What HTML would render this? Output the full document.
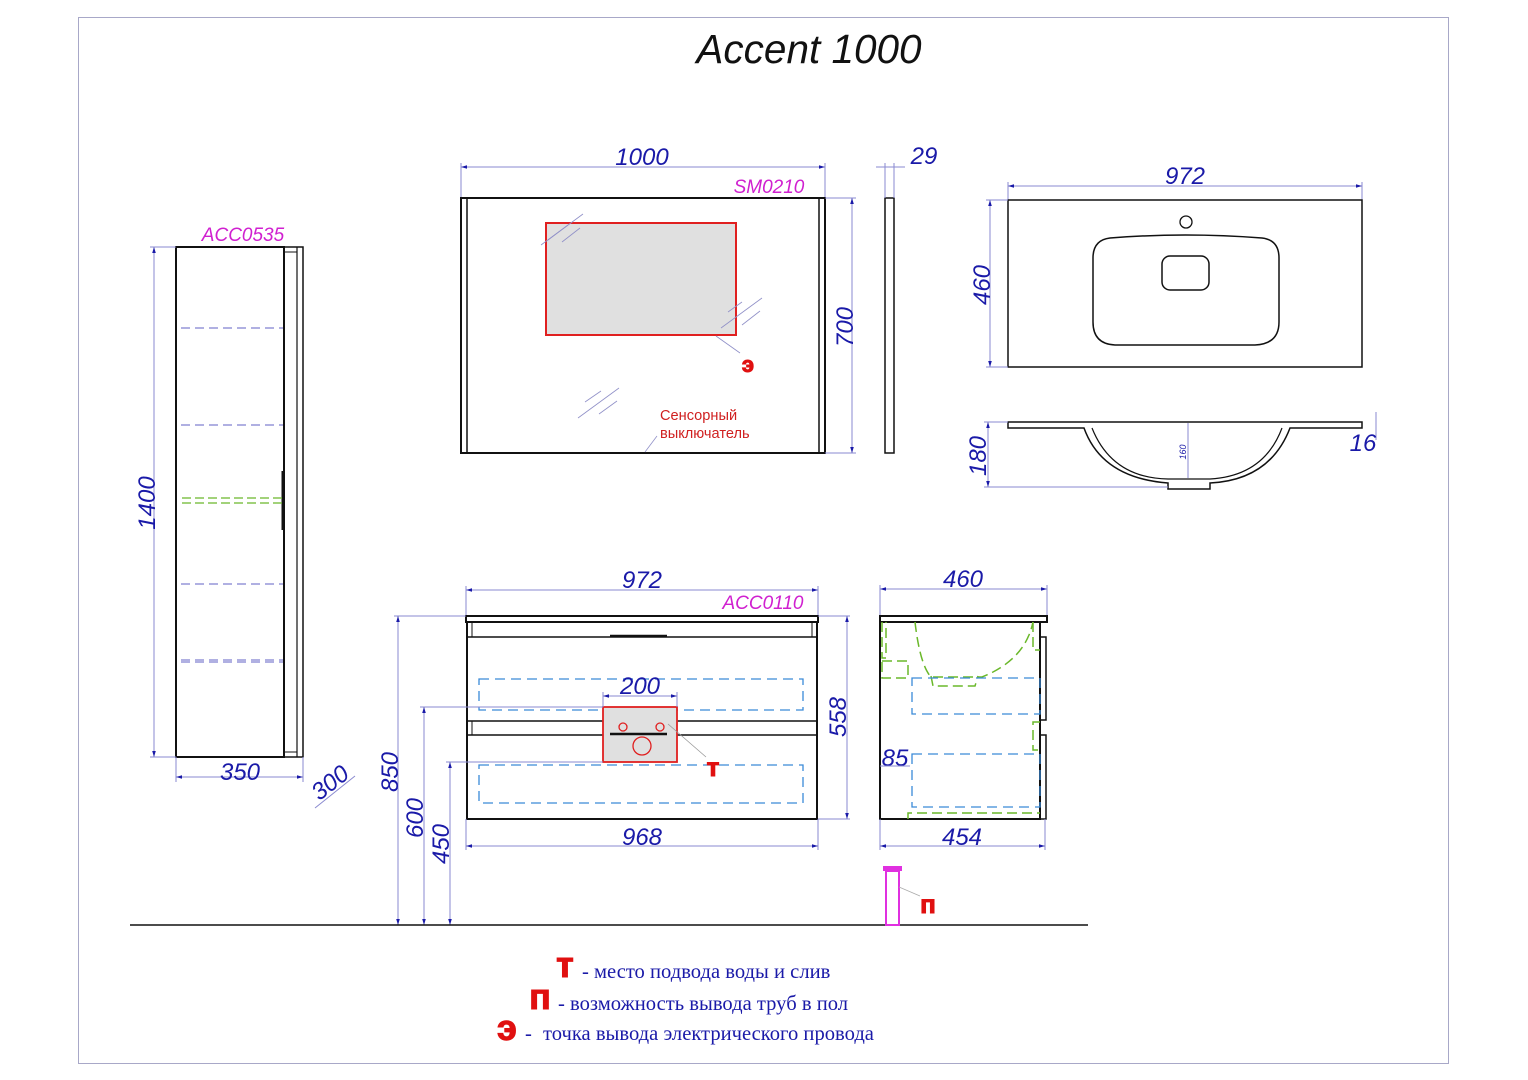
<!DOCTYPE html>
<html><head><meta charset="utf-8"><style>
html,body{margin:0;padding:0;background:#fff;}
svg{display:block;}
.d{font-family:"Liberation Sans",sans-serif;font-style:italic;fill:#1a1aa8;font-size:24px;}
.m{font-family:"Liberation Sans",sans-serif;font-style:italic;fill:#d020d0;font-size:19px;}
.dl{stroke:#8a8ad0;stroke-width:1;fill:none;}
.k{stroke:#111;stroke-width:2;fill:none;}
.bd{stroke:#3a8ad8;stroke-width:1.3;fill:none;stroke-dasharray:10 6;}
.gd{stroke:#6ab82a;stroke-width:1.5;fill:none;stroke-dasharray:10 5;}
.rl{font-family:"Liberation Sans",sans-serif;font-weight:bold;fill:#e01010;stroke:#e01010;stroke-width:1;}
.lg{font-family:"Liberation Serif","DejaVu Serif",serif;fill:#1a1aa8;font-size:20.6px;}
</style></head><body>
<svg width="1528" height="1080" viewBox="0 0 1528 1080" xmlns="http://www.w3.org/2000/svg">
<defs>
<marker id="a" viewBox="0 0 10 10" refX="10" refY="5" markerWidth="8" markerHeight="6" orient="auto-start-reverse"><path d="M0,2 L10,5 L0,8z" fill="#1a1aa8"/></marker>
</defs>
<rect x="78.5" y="17.5" width="1370" height="1046" fill="none" stroke="#a8a8c8" stroke-width="1"/>
<text x="809" y="63" text-anchor="middle" font-family="Liberation Sans,sans-serif" font-style="italic" font-size="40.5" fill="#111">Accent 1000</text>

<!-- tall cabinet -->
<text x="243" y="241" text-anchor="middle" class="m">ACC0535</text>
<rect x="176" y="247" width="108" height="510" class="k"/>
<rect x="284" y="247" width="19" height="510" fill="none" stroke="#111" stroke-width="1.5"/>
<line x1="297" y1="247" x2="297" y2="757" stroke="#111" stroke-width="1.2"/>
<line x1="284" y1="252" x2="297" y2="252" stroke="#111"/>
<line x1="284" y1="752" x2="297" y2="752" stroke="#111"/>
<line x1="283" y1="471" x2="283" y2="530" stroke="#111" stroke-width="3"/>
<g stroke="#8080d0" stroke-width="1.3" stroke-dasharray="9 5">
<line x1="181" y1="328" x2="283" y2="328"/><line x1="181" y1="425" x2="283" y2="425"/>
<line x1="181" y1="584" x2="283" y2="584"/><line x1="181" y1="660" x2="283" y2="660"/><line x1="181" y1="662" x2="283" y2="662"/>
</g>
<g stroke="#6ab82a" stroke-width="1.3" stroke-dasharray="9 4"><line x1="182" y1="498" x2="283" y2="498"/><line x1="182" y1="503" x2="283" y2="503"/></g>
<line x1="154" y1="247" x2="154" y2="757" class="dl" marker-start="url(#a)" marker-end="url(#a)"/>
<line x1="150" y1="247" x2="176" y2="247" class="dl"/><line x1="150" y1="757" x2="176" y2="757" class="dl"/>
<text class="d" transform="translate(155,503) rotate(-90)" text-anchor="middle">1400</text>
<line x1="176" y1="777" x2="303" y2="777" class="dl" marker-start="url(#a)" marker-end="url(#a)"/>
<line x1="176" y1="757" x2="176" y2="782" class="dl"/><line x1="303" y1="757" x2="303" y2="782" class="dl"/>
<text x="240" y="780" class="d" text-anchor="middle">350</text>
<text class="d" transform="translate(335,789) rotate(-38)" text-anchor="middle">300</text>
<line x1="315" y1="808" x2="355" y2="776" class="dl"/>

<!-- mirror -->
<text x="642" y="165" class="d" text-anchor="middle">1000</text>
<line x1="461" y1="167" x2="825" y2="167" class="dl" marker-start="url(#a)" marker-end="url(#a)"/>
<line x1="461" y1="163" x2="461" y2="198" class="dl"/><line x1="825" y1="163" x2="825" y2="198" class="dl"/>
<text x="769" y="193" class="m" text-anchor="middle">SM0210</text>
<rect x="461" y="198" width="364" height="255" class="k"/>
<line x1="467" y1="198" x2="467" y2="453" stroke="#111" stroke-width="1.5"/>
<line x1="819" y1="198" x2="819" y2="453" stroke="#111" stroke-width="1.5"/>
<line x1="825" y1="198" x2="856" y2="198" class="dl"/><line x1="825" y1="453" x2="856" y2="453" class="dl"/>
<line x1="852" y1="198" x2="852" y2="453" class="dl" marker-start="url(#a)" marker-end="url(#a)"/>
<text class="d" transform="translate(853,327) rotate(-90)" text-anchor="middle">700</text>
<rect x="546" y="223" width="190" height="112" fill="#e0e0e0" stroke="#e02020" stroke-width="2"/>
<g stroke="#9090c8" stroke-width="0.8">
<line x1="541" y1="245" x2="583" y2="214"/><line x1="548" y1="240" x2="568" y2="225"/><line x1="562" y1="242" x2="580" y2="228"/>
<line x1="721" y1="328" x2="762" y2="298"/><line x1="728" y1="312" x2="742" y2="302"/><line x1="742" y1="325" x2="760" y2="311"/>
<line x1="578" y1="418" x2="619" y2="388"/><line x1="585" y1="402" x2="601" y2="391"/><line x1="599" y1="414" x2="617" y2="401"/>
<line x1="716" y1="336" x2="740" y2="353"/><line x1="645" y1="452" x2="657" y2="436"/>
</g>
<text x="748" y="372" class="rl" font-size="22" text-anchor="middle">э</text>
<text x="660" y="420" font-family="Liberation Sans,sans-serif" font-size="14.6" fill="#d02020">Сенсорный</text>
<text x="660" y="438" font-family="Liberation Sans,sans-serif" font-size="14.6" fill="#d02020">выключатель</text>
<rect x="885" y="198" width="9" height="255" fill="none" stroke="#111" stroke-width="1.5"/>
<line x1="885" y1="163" x2="885" y2="198" class="dl"/><line x1="894" y1="163" x2="894" y2="198" class="dl"/>
<line x1="876" y1="167" x2="905" y2="167" class="dl"/>
<text x="924" y="164" class="d" text-anchor="middle">29</text>

<!-- sink top -->
<text x="1185" y="184" class="d" text-anchor="middle">972</text>
<line x1="1008" y1="186" x2="1362" y2="186" class="dl" marker-start="url(#a)" marker-end="url(#a)"/>
<line x1="1008" y1="182" x2="1008" y2="200" class="dl"/><line x1="1362" y1="182" x2="1362" y2="200" class="dl"/>
<rect x="1008" y="200" width="354" height="167" fill="none" stroke="#111" stroke-width="1.5"/>
<line x1="990" y1="200" x2="990" y2="367" class="dl" marker-start="url(#a)" marker-end="url(#a)"/>
<line x1="986" y1="200" x2="1008" y2="200" class="dl"/><line x1="986" y1="367" x2="1008" y2="367" class="dl"/>
<text class="d" transform="translate(990,285) rotate(-90)" text-anchor="middle">460</text>
<circle cx="1186" cy="222" r="6" fill="none" stroke="#111" stroke-width="1.3"/>
<path d="M1110,238 Q1185,232 1262,238 Q1279,240 1279,258 L1279,322 Q1279,344 1255,345 L1115,345 Q1093,344 1093,322 L1093,258 Q1093,240 1110,238Z" fill="none" stroke="#111" stroke-width="1.5"/>
<rect x="1162" y="256" width="47" height="34" rx="8" fill="none" stroke="#111" stroke-width="1.5"/>

<!-- sink side -->
<path d="M1008,422 L1362,422 L1362,428 L1290,428 Q1270,480 1210,483 L1210,489 L1168,489 L1168,483 Q1102,478 1084,428 L1008,428Z" fill="none" stroke="#111" stroke-width="1.5"/>
<path d="M1092,428 Q1112,478 1168,479 L1210,479 Q1264,476 1282,428" fill="none" stroke="#111" stroke-width="1.2"/>
<line x1="1188" y1="423" x2="1188" y2="478" class="dl"/>
<text transform="translate(1186,452) rotate(-90)" font-family="Liberation Sans,sans-serif" font-style="italic" font-size="9" fill="#1a1aa8" text-anchor="middle">160</text>
<line x1="988" y1="422" x2="988" y2="487" class="dl" marker-start="url(#a)" marker-end="url(#a)"/>
<line x1="984" y1="422" x2="1008" y2="422" class="dl"/><line x1="984" y1="487" x2="1168" y2="487" class="dl"/>
<text class="d" transform="translate(986,456) rotate(-90)" text-anchor="middle">180</text>
<line x1="1376" y1="412" x2="1376" y2="440" class="dl"/>
<text x="1363" y="451" class="d" text-anchor="middle">16</text>

<!-- vanity front -->
<text x="642" y="588" class="d" text-anchor="middle">972</text>
<line x1="466" y1="590" x2="818" y2="590" class="dl" marker-start="url(#a)" marker-end="url(#a)"/>
<line x1="466" y1="586" x2="466" y2="616" class="dl"/><line x1="818" y1="586" x2="818" y2="616" class="dl"/>
<text x="763" y="609" class="m" text-anchor="middle">ACC0110</text>
<rect x="466" y="616" width="352" height="6" fill="none" stroke="#111" stroke-width="2"/>
<rect x="467" y="622" width="350" height="197" class="k"/>
<line x1="472" y1="622" x2="472" y2="637" stroke="#111"/><line x1="812" y1="622" x2="812" y2="637" stroke="#111"/>
<line x1="467" y1="637" x2="817" y2="637" stroke="#111" stroke-width="1.5"/>
<line x1="610" y1="636" x2="667" y2="636" stroke="#111" stroke-width="2.5"/>
<line x1="467" y1="721" x2="817" y2="721" stroke="#111" stroke-width="1.5"/>
<line x1="467" y1="735" x2="817" y2="735" stroke="#111" stroke-width="1.5"/>
<line x1="472" y1="721" x2="472" y2="735" stroke="#111"/>
<rect x="479" y="679" width="324" height="31" class="bd"/>
<rect x="479" y="765" width="324" height="38" class="bd"/>
<rect x="603" y="707" width="74" height="55" fill="#e0e0e0" stroke="#e02020" stroke-width="1.8"/>
<line x1="610" y1="734" x2="667" y2="734" stroke="#111" stroke-width="2.5"/>
<circle cx="623" cy="727" r="4" fill="none" stroke="#e02020" stroke-width="1.3"/>
<circle cx="660" cy="727" r="4" fill="none" stroke="#e02020" stroke-width="1.3"/>
<circle cx="642" cy="746" r="9" fill="none" stroke="#e02020" stroke-width="1.3"/>
<line x1="668" y1="724" x2="706" y2="757" stroke="#999" stroke-width="0.8"/>
<text x="713" y="776" class="rl" font-size="26" text-anchor="middle">т</text>
<line x1="603" y1="696" x2="677" y2="696" class="dl" marker-start="url(#a)" marker-end="url(#a)"/>
<line x1="603" y1="692" x2="603" y2="707" class="dl"/><line x1="677" y1="692" x2="677" y2="707" class="dl"/>
<text x="640" y="694" class="d" text-anchor="middle">200</text>
<line x1="818" y1="616" x2="850" y2="616" class="dl"/><line x1="818" y1="819" x2="850" y2="819" class="dl"/>
<line x1="847" y1="616" x2="847" y2="819" class="dl" marker-start="url(#a)" marker-end="url(#a)"/>
<text class="d" transform="translate(846,717) rotate(-90)" text-anchor="middle">558</text>
<line x1="466" y1="819" x2="466" y2="850" class="dl"/><line x1="818" y1="819" x2="818" y2="850" class="dl"/>
<line x1="466" y1="846" x2="818" y2="846" class="dl" marker-start="url(#a)" marker-end="url(#a)"/>
<text x="642" y="845" class="d" text-anchor="middle">968</text>
<line x1="394" y1="616" x2="466" y2="616" class="dl"/>
<line x1="398" y1="616" x2="398" y2="925" class="dl" marker-start="url(#a)" marker-end="url(#a)"/>
<text class="d" transform="translate(398,772) rotate(-90)" text-anchor="middle">850</text>
<line x1="420" y1="707" x2="603" y2="707" class="dl"/>
<line x1="424" y1="707" x2="424" y2="925" class="dl" marker-start="url(#a)" marker-end="url(#a)"/>
<text class="d" transform="translate(423,818) rotate(-90)" text-anchor="middle">600</text>
<line x1="446" y1="762" x2="603" y2="762" class="dl"/>
<line x1="450" y1="762" x2="450" y2="925" class="dl" marker-start="url(#a)" marker-end="url(#a)"/>
<text class="d" transform="translate(449,844) rotate(-90)" text-anchor="middle">450</text>
<line x1="130" y1="925" x2="1088" y2="925" stroke="#111" stroke-width="1.5"/>

<!-- vanity side -->
<text x="963" y="587" class="d" text-anchor="middle">460</text>
<line x1="880" y1="589" x2="1047" y2="589" class="dl" marker-start="url(#a)" marker-end="url(#a)"/>
<line x1="880" y1="585" x2="880" y2="616" class="dl"/><line x1="1047" y1="585" x2="1047" y2="616" class="dl"/>
<rect x="880" y="616" width="167" height="6" fill="none" stroke="#111" stroke-width="2"/>
<rect x="880" y="622" width="160" height="197" class="k"/>
<rect x="1040" y="637" width="6" height="83" fill="none" stroke="#111" stroke-width="1.5"/>
<rect x="1040" y="735" width="6" height="84" fill="none" stroke="#111" stroke-width="1.5"/>
<path d="M915,622 Q920,665 931,677 L982,677 Q1025,660 1033,622" class="gd"/>
<path d="M931,676 L933,686 L975,686 L978,676" class="gd"/>
<path d="M882,622 L882,658 L886,658 L886,622" class="gd"/>
<rect x="882" y="661" width="26" height="17" class="gd" stroke-dasharray="4 2"/>
<path d="M1033,622 L1033,650 L1040,650" class="gd"/>
<path d="M1040,722 L1033,722 L1033,750 L1040,750" class="gd"/>
<path d="M908,819 L908,813 L1040,813" class="gd"/>
<rect x="912" y="678" width="128" height="36" class="bd"/>
<rect x="912" y="754" width="128" height="53" class="bd"/>
<text x="895" y="766" class="d" text-anchor="middle">85</text>
<line x1="880" y1="766" x2="910" y2="766" class="dl"/>
<line x1="880" y1="819" x2="880" y2="850" class="dl"/><line x1="1045" y1="819" x2="1045" y2="850" class="dl"/>
<line x1="880" y1="846" x2="1045" y2="846" class="dl" marker-start="url(#a)" marker-end="url(#a)"/>
<text x="962" y="845" class="d" text-anchor="middle">454</text>
<rect x="886" y="871" width="13" height="54" fill="none" stroke="#e030e0" stroke-width="2"/>
<rect x="883" y="866" width="19" height="5" fill="#e030e0"/>
<line x1="899" y1="887" x2="920" y2="896" stroke="#aaa" stroke-width="0.8"/>
<text x="928" y="913" class="rl" font-size="26" text-anchor="middle">п</text>

<!-- legend -->
<text x="565" y="977" class="rl" font-size="36" text-anchor="middle">т</text>
<text x="582" y="978" class="lg">- место подвода воды и слив</text>
<text x="540" y="1009" class="rl" font-size="36" text-anchor="middle">п</text>
<text x="558" y="1010" class="lg">- возможность вывода труб в пол</text>
<text x="507" y="1040" class="rl" font-size="36" text-anchor="middle">э</text>
<text x="525" y="1040" class="lg">-</text>
<text x="543" y="1040" class="lg">точка вывода электрического провода</text>
</svg>
</body></html>
